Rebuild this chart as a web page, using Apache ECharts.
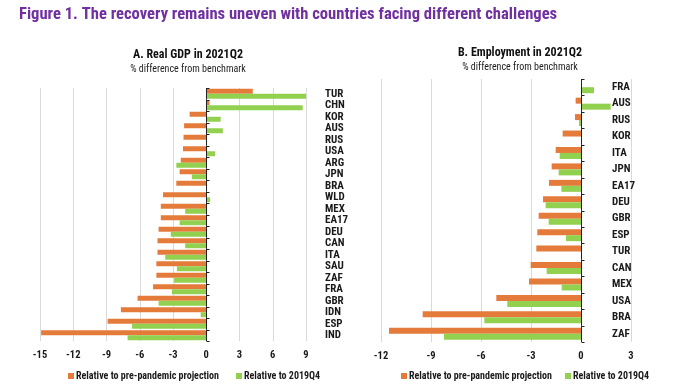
<!DOCTYPE html>
<html>
<head>
<meta charset="utf-8">
<script src="https://cdn.jsdelivr.net/npm/echarts@6/dist/echarts.min.js"></script>
<style>html,body{margin:0;padding:0;background:#fff}#c{width:700px;height:388px}</style>
</head>
<body>
<div id="c"></div>
<script>
const gdpCats = ['TUR','CHN','KOR','AUS','RUS','USA','ARG','JPN','BRA','WLD','MEX','EA17','DEU','CAN','ITA','SAU','ZAF','FRA','GBR','IDN','ESP','IND'];
const gdpPre  = [4.2, 0.3, -1.5, -2.0, -2.05, -2.1, -2.3, -2.4, -2.7, -3.9, -4.1, -4.1, -4.3, -4.4, -4.4, -4.5, -4.5, -4.8, -6.2, -7.7, -8.9, -14.9];
const gdpQ4   = [9.0, 8.7, 1.3, 1.5, 0.0, 0.8, -2.7, -1.3, 0.0, 0.35, -1.9, -2.4, -3.2, -1.9, -3.7, -2.65, -2.9, -3.1, -4.3, -0.5, -6.7, -7.1];

const empCats = ['FRA','AUS','RUS','KOR','ITA','JPN','EA17','DEU','GBR','ESP','TUR','CAN','MEX','USA','BRA','ZAF'];
const empPre  = [0.0, -0.32, -0.36, -1.1, -1.52, -1.76, -1.92, -2.28, -2.54, -2.62, -2.68, -3.02, -3.12, -5.08, -9.5, -11.52];
const empQ4   = [0.78, 1.78, -0.12, 0.0, -1.28, -1.34, -1.18, -2.12, -1.94, -0.9, 0.0, -2.06, -1.16, -4.42, -5.8, -8.22];

const nameA = 'Relative to pre-pandemic projection';
const nameB = 'Relative to 2019Q4';
const ORANGE = '#E47B3B';
const GREEN = '#92D050';
const FONT = "'Roboto Condensed','Open Sans Condensed',sans-serif";

const chart = echarts.init(document.getElementById('c'));

function xAx(grid, min, max) {
  return {
    gridIndex: grid, type: 'value', min: min, max: max, interval: 3,
    axisLine: {show: false, onZero: false}, axisTick: {show: false},
    splitLine: {show: true, lineStyle: {color: '#d9d9d9', width: 1}},
    axisLabel: {color: '#1a1a1a', fontWeight: 'bold', fontSize: 10.5, fontFamily: FONT, margin: 9}
  };
}
function yAx(grid, cats, margin) {
  return {
    gridIndex: grid, type: 'category', data: cats, inverse: true, position: 'right',
    axisLine: {show: false, onZero: false}, axisTick: {show: false}, splitLine: {show: false},
    axisLabel: {interval: 0, align: 'left', margin: margin, color: '#1a1a1a', fontWeight: 'bold', fontSize: 11, fontFamily: FONT}
  };
}
// zero axis line with category boundary ticks
function zeroAxis(xIdx, yIdx, cats) {
  const n = cats.length;
  return {
    type: 'custom', xAxisIndex: xIdx, yAxisIndex: yIdx, silent: true, z: 10, clip: false,
    data: cats.map((c, i) => [0, i]),
    renderItem: function (params, api) {
      const p = api.coord([api.value(0), api.value(1)]);
      const band = api.size([0, 1])[1];
      const x = Math.round(p[0]) + 0.5;
      const y0 = p[1] - band / 2, y1 = p[1] + band / 2;
      const st = {stroke: '#222', lineWidth: 1};
      const children = [
        {type: 'line', shape: {x1: x, y1: y0, x2: x, y2: y1}, style: st},
        {type: 'line', shape: {x1: x, y1: Math.round(y0) + 0.5, x2: x + 3, y2: Math.round(y0) + 0.5}, style: st}
      ];
      if (params.dataIndex === n - 1) {
        children.push({type: 'line', shape: {x1: x, y1: Math.round(y1) + 0.5, x2: x + 3, y2: Math.round(y1) + 0.5}, style: st});
      }
      return {type: 'group', children: children};
    }
  };
}
function legend(left, name) {
  return {
    left: left, top: 371, padding: 0, itemWidth: 6, itemHeight: 6, itemGap: 0, icon: 'rect',
    data: [name],
    textStyle: {color: '#1a1a1a', fontWeight: 'bold', fontSize: 10, fontFamily: FONT, padding: [0,0,0,-3]}
  };
}

chart.setOption({
  animation: false,
  backgroundColor: '#fff',
  title: [
    {text: 'Figure 1. The recovery remains uneven with countries facing different challenges',
     left: 19, top: 6, padding: 0,
     textStyle: {color: '#7030A0', fontWeight: 'bold', fontSize: 16.6, fontFamily: FONT}},
    {text: 'A. Real GDP in 2021Q2', subtext: '% difference from benchmark',
     left: 188, top: 49, padding: 0, textAlign: 'center', itemGap: 3,
     textStyle: {color: '#111', fontWeight: 'bold', fontSize: 12, fontFamily: FONT},
     subtextStyle: {color: '#222', fontSize: 10, fontFamily: FONT}},
    {text: 'B. Employment in 2021Q2', subtext: '% difference from benchmark',
     left: 520, top: 47, padding: 0, textAlign: 'center', itemGap: 3,
     textStyle: {color: '#111', fontWeight: 'bold', fontSize: 12, fontFamily: FONT},
     subtextStyle: {color: '#222', fontSize: 10, fontFamily: FONT}}
  ],
  legend: [legend(68, nameA), legend(236, nameB), legend(401, nameA), legend(565, nameB)],
  grid: [
    {left: 40, top: 88, width: 266, height: 253},
    {left: 381, top: 79, width: 250, height: 263}
  ],
  xAxis: [xAx(0, -15, 9), xAx(1, -12, 3)],
  yAxis: [yAx(0, gdpCats, 19), yAx(1, empCats, -19)],
  series: [
    {name: nameA, type: 'bar', xAxisIndex: 0, yAxisIndex: 0, data: gdpPre, barWidth: 5, barGap: '0%', itemStyle: {color: ORANGE}},
    {name: nameB, type: 'bar', xAxisIndex: 0, yAxisIndex: 0, data: gdpQ4, barWidth: 5, barGap: '0%', itemStyle: {color: GREEN}},
    {name: nameA, type: 'bar', xAxisIndex: 1, yAxisIndex: 1, data: empPre, barWidth: 6, barGap: '0%', itemStyle: {color: ORANGE}},
    {name: nameB, type: 'bar', xAxisIndex: 1, yAxisIndex: 1, data: empQ4, barWidth: 6, barGap: '0%', itemStyle: {color: GREEN}},
    zeroAxis(0, 0, gdpCats),
    zeroAxis(1, 1, empCats)
  ]
});
</script>
</body>
</html>
